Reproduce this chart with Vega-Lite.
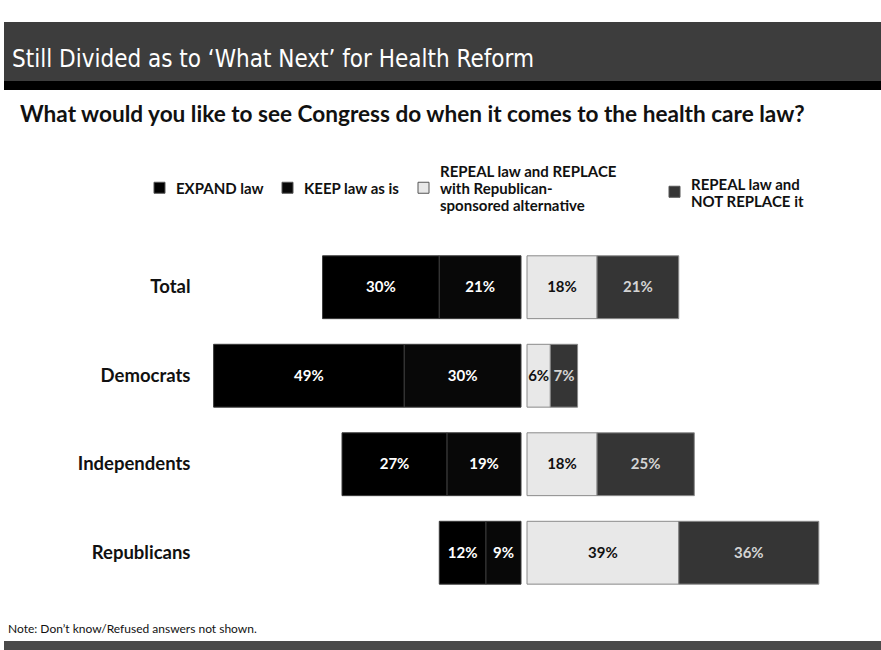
{
  "$schema": "https://vega.github.io/schema/vega-lite/v6.json",
  "background": "white",
  "padding": {"left": 4, "top": 22, "right": 0, "bottom": 0},
  "spacing": 14,
  "config": {"view": {"stroke": null}, "font": "Lato"},
  "datasets": {
    "survey": [
      {"group": "Total", "answer": "EXPAND law", "side": "support", "pct": 0.30},
      {"group": "Total", "answer": "KEEP law as is", "side": "support", "pct": 0.21},
      {"group": "Total", "answer": "REPEAL law and REPLACE with Republican-sponsored alternative", "side": "repeal", "pct": 0.18},
      {"group": "Total", "answer": "REPEAL law and NOT REPLACE it", "side": "repeal", "pct": 0.21},
      {"group": "Democrats", "answer": "EXPAND law", "side": "support", "pct": 0.49},
      {"group": "Democrats", "answer": "KEEP law as is", "side": "support", "pct": 0.30},
      {"group": "Democrats", "answer": "REPEAL law and REPLACE with Republican-sponsored alternative", "side": "repeal", "pct": 0.06},
      {"group": "Democrats", "answer": "REPEAL law and NOT REPLACE it", "side": "repeal", "pct": 0.07},
      {"group": "Independents", "answer": "EXPAND law", "side": "support", "pct": 0.27},
      {"group": "Independents", "answer": "KEEP law as is", "side": "support", "pct": 0.19},
      {"group": "Independents", "answer": "REPEAL law and REPLACE with Republican-sponsored alternative", "side": "repeal", "pct": 0.18},
      {"group": "Independents", "answer": "REPEAL law and NOT REPLACE it", "side": "repeal", "pct": 0.25},
      {"group": "Republicans", "answer": "EXPAND law", "side": "support", "pct": 0.12},
      {"group": "Republicans", "answer": "KEEP law as is", "side": "support", "pct": 0.09},
      {"group": "Republicans", "answer": "REPEAL law and REPLACE with Republican-sponsored alternative", "side": "repeal", "pct": 0.39},
      {"group": "Republicans", "answer": "REPEAL law and NOT REPLACE it", "side": "repeal", "pct": 0.36}
    ]
  },
  "vconcat": [
    {
      "width": 877,
      "height": 68,
      "data": {"values": [{"band": "header", "title": "Still Divided as to ‘What Next’ for Health Reform"}]},
      "layer": [
        {
          "mark": {
            "type": "rect",
            "color": {
              "gradient": "linear", "x1": 0, "y1": 0, "x2": 0, "y2": 1,
              "stops": [
                {"offset": 0, "color": "#3d3d3d"},
                {"offset": 0.87, "color": "#3d3d3d"},
                {"offset": 0.87, "color": "#000000"},
                {"offset": 1, "color": "#000000"}
              ]
            }
          },
          "encoding": {}
        },
        {
          "mark": {"type": "text", "align": "left", "baseline": "middle", "dx": 8, "dy": 4, "color": "white", "fontSize": 24, "font": "DejaVu Sans Condensed"},
          "encoding": {
            "x": {"field": "band", "type": "nominal", "axis": null, "scale": {"type": "band", "paddingInner": 0, "paddingOuter": 0}, "bandPosition": 0},
            "y": {"field": "band", "type": "nominal", "axis": null},
            "text": {"field": "title"}
          }
        }
      ]
    },
    {
      "title": {
        "text": "What would you like to see Congress do when it comes to the health care law?",
        "anchor": "start", "dx": 16, "offset": 116,
        "fontSize": 22.6, "font": "Lato", "fontWeight": "bold", "color": "#111111"
      },
      "spacing": 4,
      "resolve": {"scale": {"x": "independent"}},
      "hconcat": [
        {
          "width": 517,
          "height": 366,
          "data": {"name": "survey"},
          "transform": [{"filter": "datum.side == 'support'"}],
          "encoding": {
            "y": {
              "field": "group", "type": "nominal", "title": null,
              "sort": ["Total", "Democrats", "Independents", "Republicans"],
              "scale": {"paddingInner": 0.29, "paddingOuter": 0.2128, "align": 0.34},
              "axis": {"domain": false, "ticks": false, "offset": -196, "labelPadding": 10, "labelFontSize": 18.5, "labelFontWeight": "bold", "labelColor": "#111111", "labelFont": "Lato", "minExtent": 0}
            },
            "order": {"field": "answer", "sort": "descending"}
          },
          "layer": [
            {
              "mark": {"type": "bar", "stroke": "#3a3a3a", "strokeWidth": 1},
              "encoding": {
                "x": {"field": "pct", "type": "quantitative", "stack": "zero", "scale": {"domain": [0, 1.3287], "reverse": true, "nice": false}, "axis": null},
                "color": {
                  "field": "answer", "type": "nominal",
                  "scale": {"domain": ["EXPAND law", "KEEP law as is", "REPEAL law and REPLACE with Republican-sponsored alternative", "REPEAL law and NOT REPLACE it"], "range": ["#000000", "#080808", "#e8e8e8", "#353535"]},
                  "legend": {
                    "orient": "none", "legendX": 148, "legendY": 158, "direction": "horizontal", "columns": 4, "title": null,
                    "symbolType": "square", "symbolSize": 121, "symbolStrokeColor": "#555555", "symbolStrokeWidth": 1,
                    "labelFont": "Lato", "labelFontSize": 15, "labelFontWeight": "bold", "labelColor": "#111111",
                    "labelOffset": 9, "labelLimit": 400, "columnPadding": 16,
                    "labelExpr": "datum.label == 'REPEAL law and REPLACE with Republican-sponsored alternative' ? ['REPEAL law and REPLACE\u2800\u2800\u2800', 'with Republican-', 'sponsored alternative'] : datum.label == 'REPEAL law and NOT REPLACE it' ? ['', 'REPEAL law and', 'NOT REPLACE it'] : ['', datum.label, '']",
                    "encode": {
                      "labels": {"update": {"dy": {"signal": "datum.label == 'REPEAL law and NOT REPLACE it' ? -24 : -16"}}}
                    }
                  }
                }
              }
            },
            {
              "mark": {"type": "text", "fontSize": 15, "fontWeight": "bold", "font": "Lato"},
              "encoding": {
                "x": {"field": "pct", "type": "quantitative", "stack": "zero", "bandPosition": 0.5},
                "text": {"field": "pct", "type": "quantitative", "format": ".0%"},
                "color": {"value": "white"}
              }
            }
          ]
        },
        {
          "width": 352,
          "height": 366,
          "data": {"name": "survey"},
          "transform": [{"filter": "datum.side == 'repeal'"}],
          "encoding": {
            "y": {
              "field": "group", "type": "nominal", "title": null,
              "sort": ["Total", "Democrats", "Independents", "Republicans"],
              "scale": {"paddingInner": 0.29, "paddingOuter": 0.2128, "align": 0.34},
              "axis": null
            },
            "order": {"field": "answer", "sort": "descending"}
          },
          "layer": [
            {
              "mark": {"type": "bar", "stroke": "#8a8a8a", "strokeWidth": 1},
              "encoding": {
                "x": {"field": "pct", "type": "quantitative", "stack": "zero", "scale": {"domain": [0, 0.9047], "nice": false}, "axis": null},
                "color": {
                  "field": "answer", "type": "nominal",
                  "scale": {"domain": ["EXPAND law", "KEEP law as is", "REPEAL law and REPLACE with Republican-sponsored alternative", "REPEAL law and NOT REPLACE it"], "range": ["#000000", "#080808", "#e8e8e8", "#353535"]},
                  "legend": {
                    "orient": "none", "legendX": 148, "legendY": 158, "direction": "horizontal", "columns": 4, "title": null,
                    "symbolType": "square", "symbolSize": 121, "symbolStrokeColor": "#555555", "symbolStrokeWidth": 1,
                    "labelFont": "Lato", "labelFontSize": 15, "labelFontWeight": "bold", "labelColor": "#111111",
                    "labelOffset": 9, "labelLimit": 400, "columnPadding": 16,
                    "labelExpr": "datum.label == 'REPEAL law and REPLACE with Republican-sponsored alternative' ? ['REPEAL law and REPLACE\u2800\u2800\u2800', 'with Republican-', 'sponsored alternative'] : datum.label == 'REPEAL law and NOT REPLACE it' ? ['', 'REPEAL law and', 'NOT REPLACE it'] : ['', datum.label, '']",
                    "encode": {
                      "labels": {"update": {"dy": {"signal": "datum.label == 'REPEAL law and NOT REPLACE it' ? -24 : -16"}}}
                    }
                  }
                }
              }
            },
            {
              "mark": {"type": "text", "fontSize": 15, "fontWeight": "bold", "font": "Lato"},
              "encoding": {
                "x": {"field": "pct", "type": "quantitative", "stack": "zero", "bandPosition": 0.5},
                "text": {"field": "pct", "type": "quantitative", "format": ".0%"},
                "color": {
                  "condition": {"test": "datum.answer == 'REPEAL law and NOT REPLACE it'", "value": "#d4d4d4"},
                  "value": "#111111"
                }
              }
            }
          ]
        }
      ]
    },
    {
      "width": 877,
      "height": 14,
      "data": {"values": [{"band": "footer"}]},
      "title": {
        "text": "Note: Don’t know/Refused answers not shown.",
        "anchor": "start", "dx": 4, "offset": 5,
        "fontSize": 12, "font": "Lato", "fontWeight": "normal", "color": "#111111"
      },
      "mark": {"type": "rect", "color": "#4a4a4a"},
      "encoding": {}
    }
  ]
}
